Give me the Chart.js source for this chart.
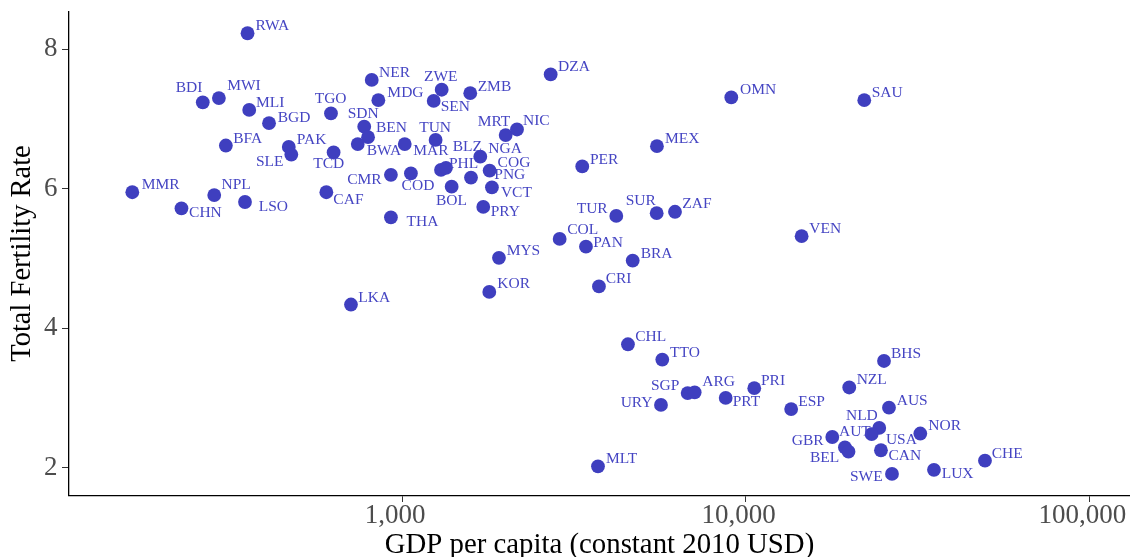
<!DOCTYPE html>
<html>
<head>
<meta charset="utf-8">
<script src="https://cdn.jsdelivr.net/npm/chart.js@4.4.0/dist/chart.umd.min.js"></script>
<style>
  html, body { margin: 0; padding: 0; background: #fff; }
  #wrap { width: 1130px; height: 557px; }
</style>
</head>
<body>
<div id="wrap"><canvas id="myChart" width="1130" height="557"></canvas></div>
<script>
// country codes, GDP per capita (constant 2010 USD) and total fertility rate
const countries = ['RWA','BDI','MWI','MLI','BGD','TGO','BFA','PAK','SLE','TCD',
    'MMR','NPL','CHN','LSO','CAF','CMR','LKA','NER','MDG','ZWE',
    'SEN','ZMB','SDN','BEN','BWA','TUN','MAR','MRT','NIC','BLZ',
    'PHL','PNG','NGA','COG','COD','BOL','VCT','PRY','THA','DZA',
    'OMN','SAU','MEX','PER','MYS','KOR','COL','PAN','TUR','SUR',
    'ZAF','BRA','CRI','CHL','TTO','VEN','SGP','ARG','URY','PRT',
    'PRI','ESP','MLT','NZL','BHS','AUS','NLD','USA','AUT','BEL',
    'GBR','CAN','NOR','SWE','LUX','CHE'];

const gdpPerCapita = [355, 263, 293, 359, 410, 621, 307, 468, 476, 632,
    164, 284, 228, 349, 602, 928, 710, 816, 853, 1304,
    1236, 1579, 776, 796, 743, 1252, 1018, 2002, 2160, 1298,
    1342, 1587, 1689, 1798, 1061, 1394, 1826, 1723, 928, 2707,
    9081, 22140, 5518, 3345, 1914, 1794, 2875, 3429, 4202, 5508,
    6228, 4690, 3741, 4544, 5719, 14550, 6779, 7105, 5669, 8747,
    10593, 13564, 3717, 20020, 25270, 26130, 24480, 23260, 19450, 19920,
    17870, 24760, 32230, 26660, 35320, 49720];

const fertility = [8.23, 7.24, 7.30, 7.13, 6.94, 7.08, 6.62, 6.60, 6.49, 6.52,
    5.95, 5.91, 5.72, 5.81, 5.95, 6.20, 4.34, 7.56, 7.27, 7.42,
    7.26, 7.37, 6.89, 6.74, 6.64, 6.70, 6.64, 6.77, 6.85, 6.27,
    6.30, 6.16, 6.46, 6.26, 6.22, 6.03, 6.02, 5.74, 5.59, 7.64,
    7.31, 7.27, 6.61, 6.32, 5.01, 4.52, 5.28, 5.17, 5.61, 5.65,
    5.67, 4.97, 4.60, 3.77, 3.55, 5.32, 3.07, 3.08, 2.90, 3.00,
    3.14, 2.84, 2.02, 3.15, 3.53, 2.86, 2.57, 2.48, 2.29, 2.23,
    2.44, 2.25, 2.49, 1.91, 1.97, 2.10];

const xTicks = [1000, 10000, 100000];
const yTicks = [2, 4, 6, 8];

// where each code sits next to its dot (left edge / middle, in px), like ggrepel put them
const labelNudge = {
    RWA: [8, -7.3], BDI: [-27, -14.3], MWI: [8.3, -12.3], MLI: [6.7, -6.7], BGD: [8.7, -5.7],
    TGO: [-16.3, -14.3], BFA: [7.3, -6.4], PAK: [8, -6.7], SLE: [-35.3, 7.4], TCD: [-20.4, 11.7],
    MMR: [9.4, -7.7], NPL: [7.3, -10], CHN: [7.6, 4.4], LSO: [13.7, 4.7], CAF: [7, 8],
    CMR: [-43.7, 4.8], LKA: [7.3, -6.6], NER: [7.3, -7.3], MDG: [9, -7.6], ZWE: [-17.7, -12.7],
    SEN: [7, 5.7], ZMB: [7.4, -6.6], SDN: [-16.6, -12.7], BEN: [8, -9], BWA: [9, 6.7],
    TUN: [-16.4, -12.3], MAR: [8.6, 6.7], MRT: [-28, -12.7], NIC: [6, -8.3], BLZ: [11.7, -23.3],
    PHL: [3, -4], PNG: [23.3, -2.7], NGA: [8, -7.4], COG: [8, -8], COD: [-9.3, 13],
    BOL: [-15.7, 14.3], VCT: [9, 5.4], PRY: [7.4, 5], THA: [15.7, 4.4], DZA: [7.3, -7.7],
    OMN: [8.7, -7], SAU: [7.4, -7.3], MEX: [8, -7.6], PER: [7.7, -6.7], MYS: [7.7, -7],
    KOR: [8, -7.7], COL: [7.6, -9.3], PAN: [7.3, -3.4], TUR: [-39.6, -7], SUR: [-31, -12.3],
    ZAF: [7.3, -7.7], BRA: [8, -6.7], CRI: [6.7, -7.4], CHL: [7.3, -7.3], TTO: [7.7, -7],
    VEN: [7.6, -7.3], SGP: [-36.7, -7.3], ARG: [7.6, -10], URY: [-40.3, -2.3], PRT: [7, 3.6],
    PRI: [6.7, -7.3], ESP: [7.1, -7.5], MLT: [8, -7.3], NZL: [7.4, -7.3], BHS: [7, -7],
    AUS: [7.7, -7], NLD: [-33.3, -12.3], USA: [14.3, 5.7], AUT: [-6, -15.6], BEL: [-38.5, 5.8],
    GBR: [-40.6, 4.4], CAN: [7.5, 5.7], NOR: [8, -7.3], SWE: [-42, 2.7], LUX: [7.7, 4.3],
    CHE: [6.7, -6.7]
};

const serif = '"Liberation Serif", "Times New Roman", serif';
const dotColor = '#3F3FBF';

const codeLabels = {
    id: 'codeLabels',
    afterDatasetsDraw(chart) {
        const ctx = chart.ctx;
        const meta = chart.getDatasetMeta(0);
        ctx.save();
        ctx.font = '15.5px ' + serif;
        ctx.fillStyle = '#4545C3';
        ctx.textAlign = 'left';
        ctx.textBaseline = 'middle';
        meta.data.forEach((pt, i) => {
            const n = labelNudge[countries[i]] || [7, -7];
            ctx.fillText(countries[i], pt.x + n[0], pt.y + n[1]);
        });
        ctx.restore();
    }
};

// stop the scales from reserving room for overhanging tick labels
function noOverhang(s) {
    s.paddingLeft = 0;
    s.paddingRight = 0;
    s.paddingTop = 0;
    s.paddingBottom = 0;
}

const points = gdpPerCapita.map((g, i) => ({ x: g, y: fertility[i] }));

const ctx = document.getElementById('myChart').getContext('2d');
let myChart = new Chart(ctx, {
    type: 'scatter',
    data: {
        datasets: [{
            data: points,
            backgroundColor: dotColor,
            borderWidth: 0,
            pointRadius: 6.9,
            pointHoverRadius: 6.9
        }]
    },
    options: {
        responsive: false,
        animation: false,
        devicePixelRatio: 1,
        layout: { autoPadding: false, padding: { top: 11.7, right: 0, left: 0, bottom: 0 } },
        plugins: {
            legend: { display: false },
            tooltip: { enabled: false }
        },
        scales: {
            x: {
                type: 'logarithmic',
                min: 107.3,
                max: 131400,
                afterBuildTicks: s => { s.ticks = xTicks.map(v => ({ value: v })); },
                afterFit: s => { s.height = 61.7; noOverhang(s); },
                grid: { drawOnChartArea: false, drawTicks: true, tickLength: 6.7, tickColor: '#333', lineWidth: 1 },
                border: { display: true, color: '#000', width: 1.3 },
                ticks: {
                    color: '#4D4D4D',
                    padding: 0,
                    labelOffset: -7,
                    maxRotation: 0,
                    font: { family: serif, size: 27, lineHeight: 1 },
                    callback: v => Number(v).toLocaleString('en-US')
                },
                title: {
                    display: true,
                    text: 'GDP per capita (constant 2010 USD)',
                    color: '#000',
                    padding: 0,
                    font: { family: serif, size: 28.8, lineHeight: 0.81 }
                }
            },
            y: {
                min: 1.604,
                max: 8.539,
                afterBuildTicks: s => { s.ticks = yTicks.map(v => ({ value: v })); },
                afterFit: s => { s.width = 69; noOverhang(s); },
                grid: { drawOnChartArea: false, drawTicks: true, tickLength: 7, tickColor: '#333', lineWidth: 1 },
                border: { display: true, color: '#000', width: 1.3 },
                ticks: {
                    color: '#4D4D4D',
                    padding: 4.5,
                    font: { family: serif, size: 27, lineHeight: 1 }
                },
                title: {
                    display: true,
                    text: 'Total Fertility Rate',
                    color: '#000',
                    padding: { top: 8.3, bottom: 0 },
                    font: { family: serif, size: 28.5, lineHeight: 1 }
                }
            }
        }
    },
    plugins: [codeLabels]
});
</script>
</body>
</html>
